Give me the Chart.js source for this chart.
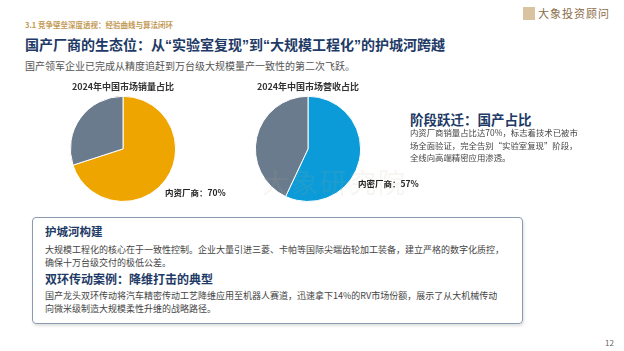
<!DOCTYPE html>
<html lang="zh">
<head>
  <meta charset="UTF-8" />
  <title>国产厂商的生态位</title>
  <script src="https://cdn.jsdelivr.net/npm/chart.js"></script>
  <style>
    body {
      margin: 0;
      font-family: "Noto Sans CJK SC", "Noto Sans", sans-serif;
      background: #fff;
    }
    #slide {
      position: relative;
      width: 624px;
      height: 351px;
      overflow: hidden;
      background: #fff;
    }
    .abs { position: absolute; white-space: nowrap; }
    .chartBox { position: absolute; }
    .logo { left: 523px; top: 5px; font-size: 11px; color: #8b6d47; letter-spacing: 1px; }
    .logo span.icon {
      display: inline-block; width: 12px; height: 13px; background: #d9c3a0;
      vertical-align: -2px; margin-right: 3px;
    }
    .section { left: 25px; top: 19px; font-size: 7.5px; color: #c39a55; font-weight: bold; }
    .title { left: 25px; top: 34px; font-size: 14px; font-weight: bold; color: #1e3a66;
      font-family: "Liberation Sans", "Noto Sans CJK SC", sans-serif; }
    .lead { left: 25px; top: 58px; font-size: 10px; color: #555; }
    .pieLabel { font-size: 8.5px; font-weight: bold; color: #222; }
    .h2 { font-weight: bold; color: #1e3a66; }
    .body { font-size: 8.4px; color: #444; line-height: 12.5px; }
    .box {
      position: absolute; left: 32px; top: 217px; width: 489px; height: 105px;
      border: 1.5px solid #8a9ab0; border-radius: 4px;
      box-shadow: 1px 2px 3px rgba(0,0,0,0.12);
    }
    .watermark { left: 262px; top: 162px; font-size: 27px; color: rgba(190,170,140,0.12); letter-spacing: 2px; }
    .page { left: 605px; top: 337px; font-size: 8px; color: #666; }
  </style>
</head>
<body>
<div id="slide">
  <div class="abs logo"><span class="icon"></span>大象投资顾问</div>
  <div class="abs section">3.1 竞争壁垒深度透视：经验曲线与算法闭环</div>
  <div class="abs title">国产厂商的生态位：从“实验室复现”到“大规模工程化”的护城河跨越</div>
  <div class="abs lead">国产领军企业已完成从精度追赶到万台级大规模量产一致性的第二次飞跃。</div>

  <div class="chartBox" style="left:50px; top:78px; width:180px; height:124px;"><canvas id="pieVolume"></canvas></div>
  <div class="chartBox" style="left:230px; top:78px; width:180px; height:124px;"><canvas id="pieRevenue"></canvas></div>
  <div class="abs watermark">大象研究院</div>
  <div class="abs pieLabel" id="labelVolume" style="left:165px; top:186px;"></div>
  <div class="abs pieLabel" id="labelRevenue" style="left:358px; top:177px;"></div>

  <div class="abs h2" style="left:410px; top:109px; font-size:13.5px;">阶段跃迁：国产占比</div>
  <div class="abs body" style="left:410px; top:126px;">内资厂商销量占比达70%，标志着技术已被市<br>场全面验证，完全告别“实验室复现”阶段，<br>全线向高端精密应用渗透。</div>

  <div class="box"></div>
  <div class="abs h2" style="left:45px; top:223px; font-size:11.5px;">护城河构建</div>
  <div class="abs body" style="left:45px; top:244px; font-size:9px;">大规模工程化的核心在于一致性控制。企业大量引进三菱、卡帕等国际尖端齿轮加工装备，建立严格的数字化质控，<br>确保十万台级交付的极低公差。</div>
  <div class="abs h2" style="left:45px; top:270px; font-size:12px;">双环传动案例：降维打击的典型</div>
  <div class="abs body" style="left:45px; top:290px; font-size:9px;">国产龙头双环传动将汽车精密传动工艺降维应用至机器人赛道，迅速拿下14%的RV市场份额，展示了从大机械传动<br>向微米级制造大规模柔性升维的战略路径。</div>

  <div class="abs page">12</div>
</div>

<script>
  // 2024 China market share (%)
  const volumeLabels = ['内资厂商', '外资厂商'];
  const volumeShare = [70, 30];
  const volumeColors = ['#efa500', '#6a7b8d'];

  const revenueLabels = ['内密厂商', '外资厂商'];
  const revenueShare = [57, 43];
  const revenueColors = ['#0a9bd8', '#6a7b8d'];

  function makePie(id, title, labels, values, colors, padding) {
    return new Chart(document.getElementById(id), {
      type: 'pie',
      data: {
        labels: labels,
        datasets: [{
          data: values,
          backgroundColor: colors,
          borderColor: '#ffffff',
          borderWidth: 1
        }]
      },
      options: {
        responsive: true,
        maintainAspectRatio: false,
        animation: false,
        layout: { padding: padding },
        plugins: {
          legend: { display: false },
          tooltip: { enabled: false },
          title: {
            display: true,
            text: title,
            color: '#333',
            font: { family: 'Noto Sans CJK SC', size: 9, weight: 'bold' },
            padding: { top: 3, bottom: 4 }
          }
        }
      }
    });
  }

  makePie('pieVolume', '2024年中国市场销量占比', volumeLabels, volumeShare, volumeColors, { right: 34 });
  makePie('pieRevenue', '2024年中国市场营收占比', revenueLabels, revenueShare, revenueColors, { right: 24 });

  document.getElementById('labelVolume').textContent = volumeLabels[0] + '：' + volumeShare[0] + '%';
  document.getElementById('labelRevenue').textContent = revenueLabels[0] + '：' + revenueShare[0] + '%';
</script>
</body>
</html>
